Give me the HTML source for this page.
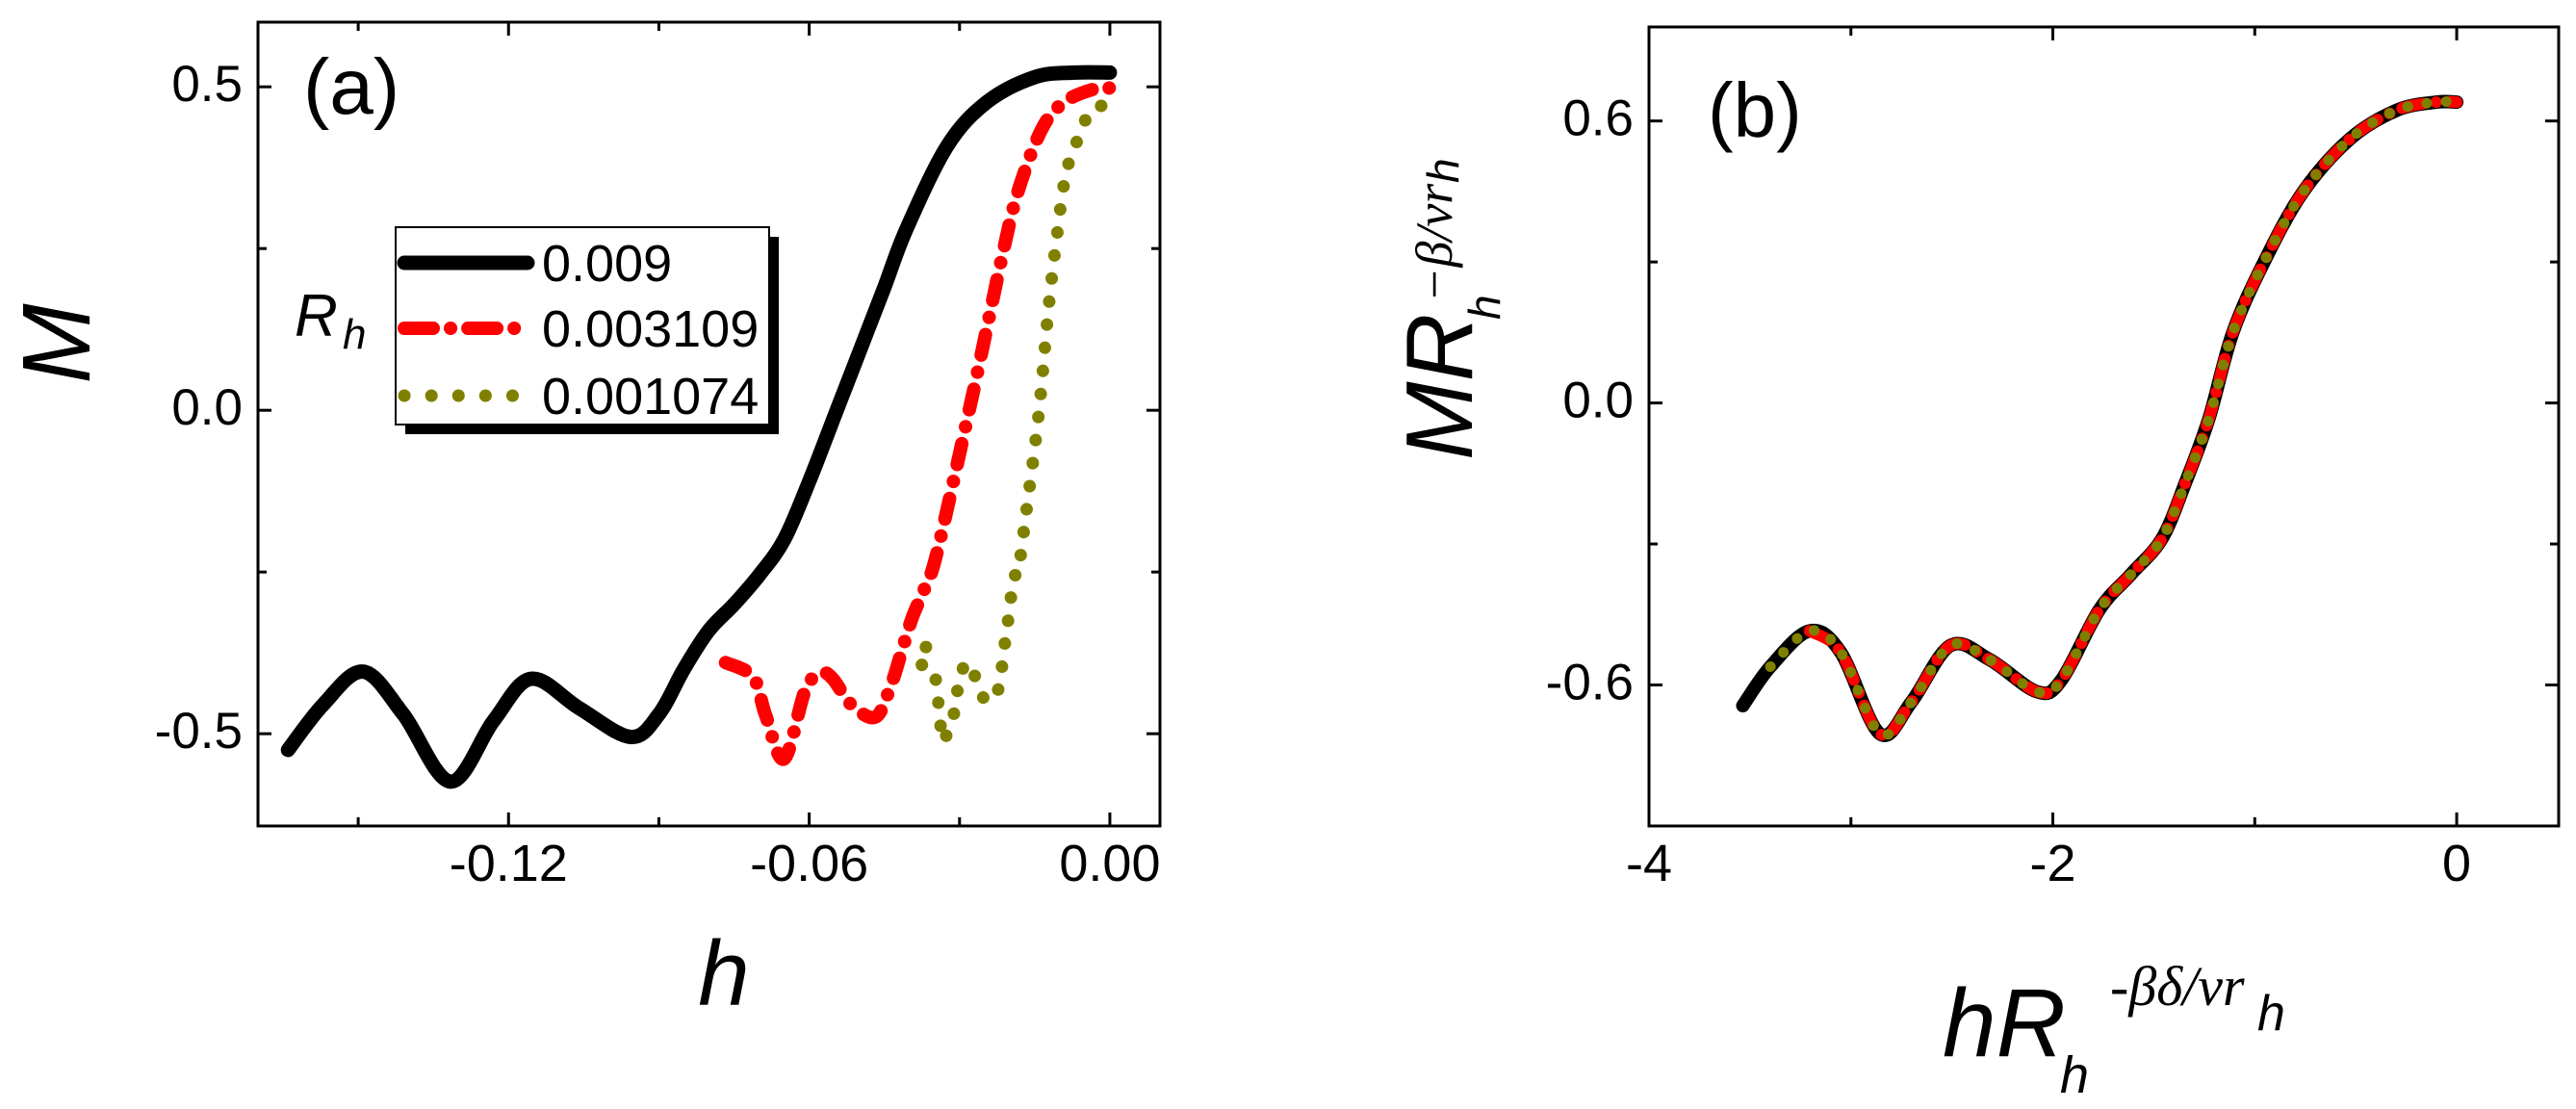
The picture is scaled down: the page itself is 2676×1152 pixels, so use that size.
<!DOCTYPE html>
<html><head><meta charset="utf-8"><style>
html,body{margin:0;padding:0;background:#fff;}
svg{display:block;font-family:"Liberation Sans",Arial,sans-serif;}
</style></head><body>
<svg id="chart" width="2676" height="1152" viewBox="0 0 2676 1152">
<g id="pa"></g>
<g id="pb"></g>
</svg>
<script>
// ---------- Panel (a) data ----------
const aBlackH = [-0.164,-0.157,-0.149,-0.141,-0.1316,-0.123,-0.1155,-0.106,-0.0957,-0.09,-0.085,-0.08,-0.075,-0.07,-0.065,-0.06,-0.055,-0.05,-0.045,-0.0406,-0.0325,-0.0246,-0.015,-0.007,0.0];
const aBlackM = [-0.525,-0.455,-0.404,-0.47,-0.574,-0.48,-0.415,-0.46,-0.505,-0.47,-0.40,-0.34,-0.30,-0.255,-0.20,-0.11,-0.01,0.09,0.19,0.28,0.408,0.476,0.515,0.522,0.522];
const aRedH = [-0.0767,-0.0712,-0.0687,-0.065,-0.0608,-0.0577,-0.0553,-0.0516,-0.0467,-0.0436,-0.0418,-0.0394,-0.0369,-0.0345,-0.0279,-0.0246,-0.0215,-0.0183,-0.0135,-0.0088,-0.0025,0.0];
const aRedM = [-0.39,-0.412,-0.471,-0.539,-0.433,-0.406,-0.415,-0.455,-0.474,-0.423,-0.379,-0.32,-0.274,-0.22,0.006,0.125,0.238,0.339,0.436,0.478,0.498,0.498];
const aOliveH = [-0.0367,-0.0384,-0.0353,-0.0345,-0.0339,-0.0333,-0.0308,-0.0302,-0.0284,-0.0263,-0.0247,-0.0225,-0.0216,-0.021,-0.0204,-0.0192,-0.0183,-0.0167,-0.0142,-0.0123,-0.0108,-0.0087,-0.0056,-0.0038,0.0];
const aOliveM = [-0.366,-0.39,-0.40,-0.436,-0.474,-0.512,-0.46,-0.42,-0.39,-0.423,-0.45,-0.436,-0.40,-0.363,-0.33,-0.26,-0.249,-0.158,-0.006,0.153,0.254,0.368,0.433,0.464,0.473];
const aXTicks = [-0.12,-0.06,0.00];
const aXTickLabels = ["-0.12","-0.06","0.00"];
const aXMinor = [-0.15,-0.09,-0.03];
const aYTicks = [0.5,0.0,-0.5];
const aYTickLabels = ["0.5","0.0","-0.5"];
const aYMinor = [0.25,-0.25];
const legendLabels = ["0.009","0.003109","0.001074"];

// ---------- Panel (b) data ----------
const bX = [-3.535,-3.399,-3.205,-3.05,-2.856,-2.70,-2.507,-2.313,-2.08,-1.96,-1.77,-1.614,-1.46,-1.343,-1.227,-1.11,-0.955,-0.761,-0.528,-0.296,-0.1,0.0];
const bY = [-0.644,-0.561,-0.485,-0.531,-0.704,-0.636,-0.516,-0.546,-0.614,-0.591,-0.44,-0.365,-0.289,-0.169,-0.033,0.148,0.299,0.449,0.562,0.623,0.64,0.64];
const bRedStart = 2;
const bOliveStart = 1;
const bXTicks = [-4,-2,0];
const bXTickLabels = ["-4","-2","0"];
const bXMinor = [-3,-1];
const bYTicks = [0.6,0.0,-0.6];
const bYTickLabels = ["0.6","0.0","-0.6"];
const bYMinor = [0.3,-0.3];

const NS = "http://www.w3.org/2000/svg";
function mk(tag, attrs, parent){
  const e = document.createElementNS(NS, tag);
  for (const k in attrs) e.setAttribute(k, attrs[k]);
  parent.appendChild(e);
  return e;
}
function smoothPath(px){
  let d = "M" + px[0][0].toFixed(1) + "," + px[0][1].toFixed(1);
  for (let i = 0; i < px.length - 1; i++){
    const p0 = px[Math.max(i-1,0)], p1 = px[i], p2 = px[i+1], p3 = px[Math.min(i+2,px.length-1)];
    const c1x = p1[0] + (p2[0]-p0[0])/6, c1y = p1[1] + (p2[1]-p0[1])/6;
    const c2x = p2[0] - (p3[0]-p1[0])/6, c2y = p2[1] - (p3[1]-p1[1])/6;
    d += " C" + c1x.toFixed(1) + "," + c1y.toFixed(1) + " " + c2x.toFixed(1) + "," + c2y.toFixed(1) + " " + p2[0].toFixed(1) + "," + p2[1].toFixed(1);
  }
  return d;
}

function frame(g, L, T, R, B, sx, sy, xt, xtl, xm, yt, ytl, ym, ylabelRight){
  let e;
  e = mk("rect", {x:L, y:T, width:R-L, height:B-T, fill:"none", stroke:"#000", "stroke-width":3}, g);
  
  
  xt.forEach((v,i)=>{
    const x = sx(v);
    e = mk("line", {x1:x, y1:B, x2:x, y2:B-14, stroke:"#000", "stroke-width":3}, g);
    
    
    e = mk("line", {x1:x, y1:T, x2:x, y2:T+14, stroke:"#000", "stroke-width":3}, g);
    
    
    e = mk("text", {x:x, y:B+57, "font-size":54, "text-anchor":"middle"}, g);
    e.textContent = xtl[i];
    
    
  });
  xm.forEach(v=>{
    const x = sx(v);
    e = mk("line", {x1:x, y1:B, x2:x, y2:B-9, stroke:"#000", "stroke-width":3}, g);
    
    
    e = mk("line", {x1:x, y1:T, x2:x, y2:T+9, stroke:"#000", "stroke-width":3}, g);
    
    
  });
  yt.forEach((v,i)=>{
    const y = sy(v);
    e = mk("line", {x1:L, y1:y, x2:L+14, y2:y, stroke:"#000", "stroke-width":3}, g);
    
    
    e = mk("line", {x1:R, y1:y, x2:R-14, y2:y, stroke:"#000", "stroke-width":3}, g);
    
    
    e = mk("text", {x:ylabelRight, y:y+15, "font-size":53, "text-anchor":"end"}, g);
    e.textContent = ytl[i];
    
    
  });
  ym.forEach(v=>{
    const y = sy(v);
    e = mk("line", {x1:L, y1:y, x2:L+9, y2:y, stroke:"#000", "stroke-width":3}, g);
    
    
    e = mk("line", {x1:R, y1:y, x2:R-9, y2:y, stroke:"#000", "stroke-width":3}, g);
    
    
  });
}

// ----- Panel A -----
(function(){
  const g = document.getElementById("pa");
  const L=268, T=23, R=1205, B=858;
  const xmin=-0.17, xmax=0.01, ymin=-0.6426, ymax=0.6;
  const sx = v => L + (v - xmin)/(xmax - xmin)*(R - L);
  const sy = v => B - (v - ymin)/(ymax - ymin)*(B - T);
  let e;
  const clip = mk("clipPath", {id:"clipA"}, g);
  mk("rect", {x:L, y:T, width:R-L, height:B-T}, clip);
  const data = mk("g", {"clip-path":"url(#clipA)"}, g);
  e = mk("path", {d:smoothPath(aBlackH.map((h,i)=>[sx(h), sy(aBlackM[i])])), fill:"none", stroke:"#000", "stroke-width":15, "stroke-linecap":"round", "stroke-linejoin":"round"}, data);
  
  
  e = mk("path", {d:smoothPath(aRedH.map((h,i)=>[sx(h), sy(aRedM[i])])), fill:"none", stroke:"#ff0000", "stroke-width":14, "stroke-linecap":"round", "stroke-dasharray":"22 18 0.1 18"}, data);
  
  
  e = mk("path", {d:smoothPath(aOliveH.map((h,i)=>[sx(h), sy(aOliveM[i])])), fill:"none", stroke:"#808000", "stroke-width":13, "stroke-linecap":"round", "stroke-dasharray":"0.1 24"}, data);
  
  
  frame(g, L, T, R, B, sx, sy, aXTicks, aXTickLabels, aXMinor, aYTicks, aYTickLabels, aYMinor, 252);
  e = mk("text", {x:315, y:118, "font-size":82}, g);
  e.textContent = "(a)";
  
  
  e = mk("text", {x:0, y:0, "font-size":100, "font-style":"italic", "text-anchor":"middle", transform:"translate(93,357) rotate(-90)"}, g);
  e.textContent = "M";
  
  
  e = mk("text", {x:752, y:1044, "font-size":96, "font-style":"italic", "text-anchor":"middle"}, g);
  e.textContent = "h";
  
  
  const lg = mk("g", {}, g);
  
  
  mk("rect", {x:421, y:246, width:388, height:205, fill:"#000"}, lg);
  mk("rect", {x:411, y:236, width:388, height:205, fill:"#fff", stroke:"#000", "stroke-width":2}, lg);
  const ly = [273, 341, 411];
  const styles = [
    {stroke:"#000","stroke-width":15,"stroke-linecap":"round"},
    {stroke:"#ff0000","stroke-width":14,"stroke-linecap":"round","stroke-dasharray":"30 18 0.1 18"},
    {stroke:"#808000","stroke-width":13,"stroke-linecap":"round","stroke-dasharray":"0.1 28"}
  ];
  legendLabels.forEach((lab,i)=>{
    const s = Object.assign({x1:420, y1:ly[i], x2:548, y2:ly[i], fill:"none"}, styles[i]);
    e = mk("line", s, lg);
    
    
    e = mk("text", {x:563, y:ly[i]+19, "font-size":54}, lg);
    e.textContent = lab;
    
    
  });
  e = mk("text", {x:306, y:349, "font-size":62, "font-style":"italic"}, g);
  e.textContent = "R";
  
  
  e = mk("text", {x:356, y:362, "font-size":44, "font-style":"italic"}, g);
  e.textContent = "h";
  
  
})();

// ----- Panel B -----
(function(){
  const g = document.getElementById("pb");
  const L=1713, T=28, R=2658, B=858;
  const xmin=-4, xmax=0.505, ymin=-0.9, ymax=0.8;
  const sx = v => L + (v - xmin)/(xmax - xmin)*(R - L);
  const sy = v => B - (v - ymin)/(ymax - ymin)*(B - T);
  let e;
  const pts = bX.map((x,i)=>[sx(x), sy(bY[i])]);
  e = mk("path", {d:smoothPath(pts), fill:"none", stroke:"#000", "stroke-width":14, "stroke-linecap":"round", "stroke-linejoin":"round"}, g);
  
  
  e = mk("path", {d:smoothPath(pts.slice(bRedStart)), fill:"none", stroke:"#ff0000", "stroke-width":12, "stroke-linecap":"round", "stroke-dasharray":"22 14 0.1 14"}, g);
  
  
  e = mk("path", {d:smoothPath(pts.slice(bOliveStart)), fill:"none", stroke:"#808000", "stroke-width":11, "stroke-linecap":"round", "stroke-dasharray":"0.1 20"}, g);
  
  
  frame(g, L, T, R, B, sx, sy, bXTicks, bXTickLabels, bXMinor, bYTicks, bYTickLabels, bYMinor, 1697);
  e = mk("text", {x:1774, y:142, "font-size":80}, g);
  e.textContent = "(b)";
  
  
  const yt = mk("g", {transform:"translate(1529,478) rotate(-90)"}, g);
  
  
  e = mk("text", {x:0, y:0, "font-size":98, "font-style":"italic"}, yt);
  e.textContent = "MR";
  e = mk("text", {x:146, y:29, "font-size":46, "font-style":"italic"}, yt);
  e.textContent = "h";
  e = mk("text", {x:164, y:-21, "font-size":54, "font-style":"italic", "font-family":"Liberation Serif, serif"}, yt);
  e.textContent = "−β/νr";
  e = mk("text", {x:288, y:-14, "font-size":46, "font-style":"italic"}, yt);
  e.textContent = "h";
  const xtg = mk("g", {}, g);
  
  
  e = mk("text", {x:2018, y:1097, "font-size":100, "font-style":"italic"}, xtg);
  e.textContent = "hR";
  e = mk("text", {x:2140, y:1135, "font-size":54, "font-style":"italic"}, xtg);
  e.textContent = "h";
  e = mk("text", {x:2192, y:1044, "font-size":58, "font-style":"italic", "font-family":"Liberation Serif, serif"}, xtg);
  e.textContent = "-βδ/νr";
  e = mk("text", {x:2345, y:1070, "font-size":52, "font-style":"italic"}, xtg);
  e.textContent = "h";
})();
</script>
</body></html>
